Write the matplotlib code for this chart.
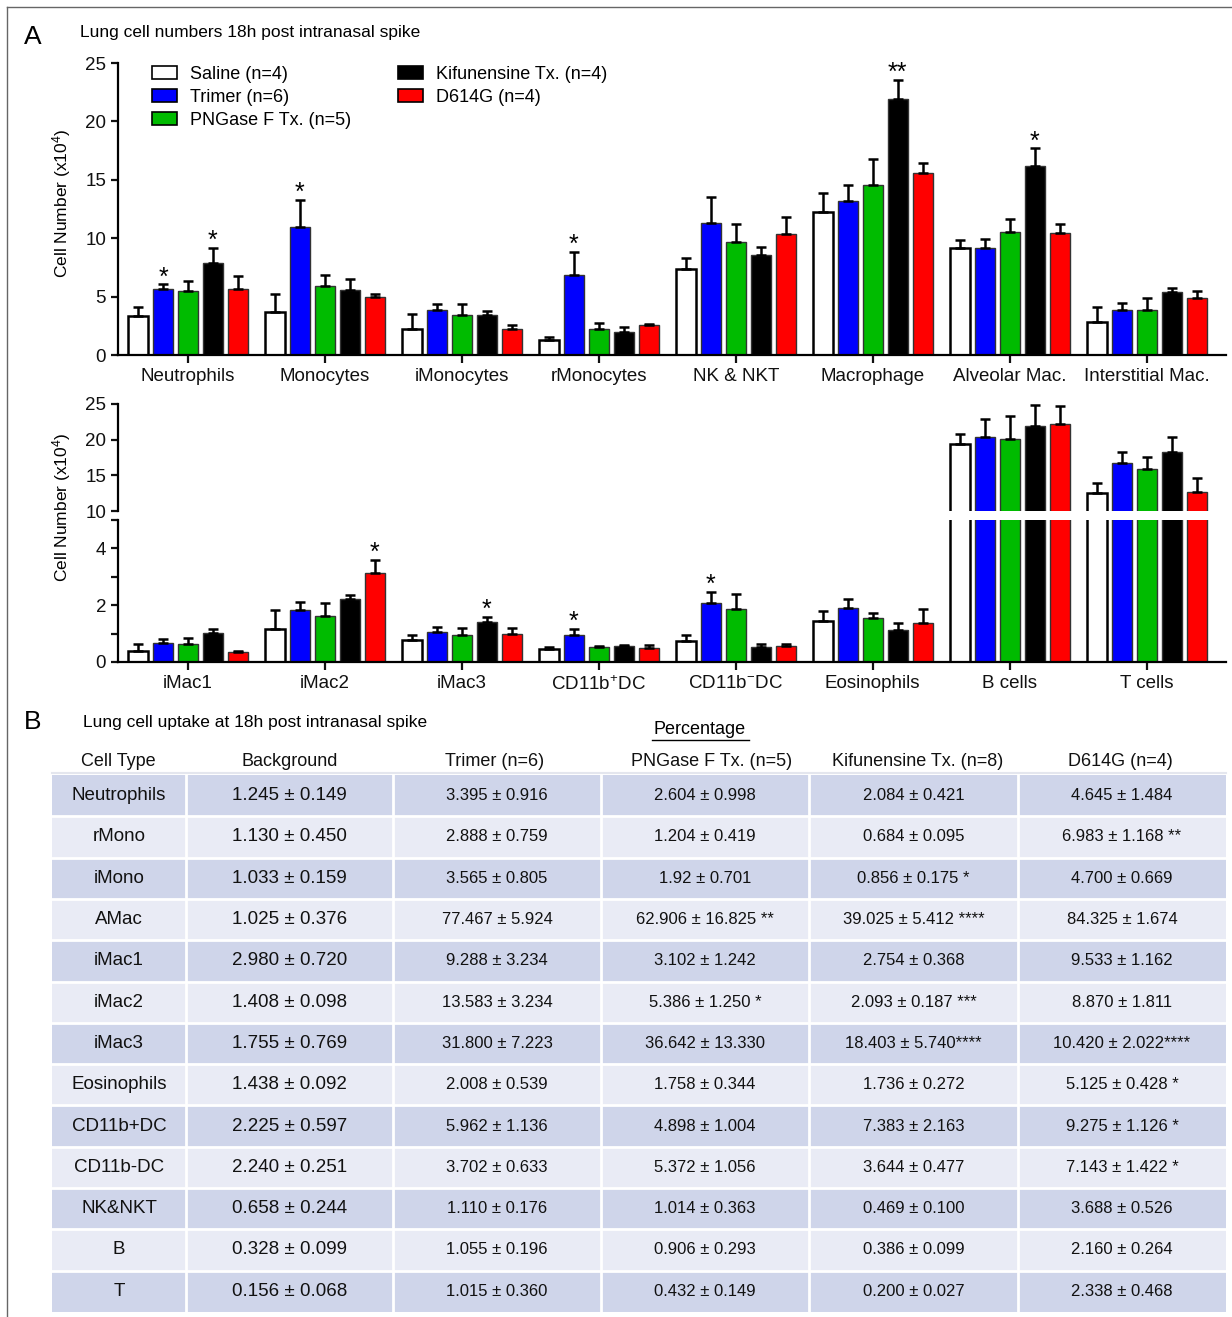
import matplotlib.pyplot as plt
import numpy as np
from matplotlib import font_manager
from matplotlib.patches import Patch, Rectangle

plt.rcParams['font.family'] = 'Liberation Sans'
plt.rcParams['mathtext.fontset'] = 'custom'
plt.rcParams['mathtext.rm'] = 'Liberation Sans'
plt.rcParams['mathtext.it'] = 'Liberation Sans:italic'

# ---- Data ----
groups = ["Saline (n=4)", "Trimer (n=6)", "PNGase F Tx. (n=5)",
          "Kifunensine Tx. (n=4)", "D614G (n=4)"]
colors = ["#ffffff", "#0000ff", "#00bb00", "#000000", "#ff0000"]

top_cells = ["Neutrophils", "Monocytes", "iMonocytes", "rMonocytes",
             "NK & NKT", "Macrophage", "Alveolar Mac.", "Interstitial Mac."]
top_means = [[3.33, 5.67, 5.44, 7.89, 5.67],
             [3.70, 10.94, 5.93, 5.58, 4.99],
             [2.22, 3.87, 3.45, 3.39, 2.22],
             [1.25, 6.84, 2.25, 1.94, 2.54],
             [7.33, 11.33, 9.67, 8.56, 10.36],
             [12.27, 13.21, 14.55, 21.92, 15.55],
             [9.19, 9.13, 10.56, 16.21, 10.47],
             [2.83, 3.85, 3.85, 5.42, 4.91]]
top_sem = [[0.77, 0.37, 0.91, 1.26, 1.13],
           [1.49, 2.36, 0.94, 0.89, 0.22],
           [1.31, 0.52, 0.94, 0.40, 0.32],
           [0.29, 2.02, 0.45, 0.48, 0.14],
           [0.95, 2.17, 1.57, 0.72, 1.43],
           [1.57, 1.32, 2.23, 1.60, 0.86],
           [0.66, 0.77, 1.06, 1.48, 0.72],
           [1.25, 0.60, 1.03, 0.32, 0.60]]
top_stars = [(0, 1, "*"), (0, 3, "*"), (1, 1, "*"), (3, 1, "*"), (5, 3, "**"), (6, 3, "*")]

bot_cells = ["iMac1", "iMac2", "iMac3", "CD11b$^{+}$DC", "CD11b$^{-}$DC",
             "Eosinophils", "B cells", "T cells"]
bot_means = [[0.40, 0.66, 0.65, 1.02, 0.34],
             [1.16, 1.84, 1.62, 2.22, 3.12],
             [0.78, 1.05, 0.95, 1.40, 1.00],
             [0.46, 0.95, 0.52, 0.55, 0.51],
             [0.75, 2.09, 1.87, 0.52, 0.56],
             [1.45, 1.89, 1.55, 1.14, 1.38],
             [19.44, 20.33, 20.14, 21.87, 22.15],
             [12.52, 16.73, 15.93, 18.32, 12.71]]
bot_sem = [[0.25, 0.16, 0.19, 0.14, 0.06],
           [0.68, 0.29, 0.47, 0.14, 0.46],
           [0.17, 0.17, 0.23, 0.18, 0.18],
           [0.08, 0.20, 0.06, 0.06, 0.08],
           [0.19, 0.38, 0.53, 0.12, 0.08],
           [0.36, 0.33, 0.18, 0.22, 0.47],
           [1.40, 2.52, 3.18, 2.99, 2.57],
           [1.41, 1.49, 1.69, 2.10, 1.87]]
bot_stars = [(1, 4, "*"), (2, 3, "*"), (3, 1, "*"), (4, 1, "*")]

# table (panel B)
tbl_header = ["Cell Type", "Background", "Trimer (n=6)", "PNGase F Tx. (n=5)",
              "Kifunensine Tx. (n=8)", "D614G (n=4)"]
tbl_cells = ["Neutrophils", "rMono", "iMono", "AMac", "iMac1", "iMac2", "iMac3",
             "Eosinophils", "CD11b+DC", "CD11b-DC", "NK&NKT", "B", "T"]
tbl_background = ["1.245 ± 0.149", "1.130 ± 0.450", "1.033 ± 0.159", "1.025 ± 0.376",
                  "2.980 ± 0.720", "1.408 ± 0.098", "1.755 ± 0.769", "1.438 ± 0.092",
                  "2.225 ± 0.597", "2.240 ± 0.251", "0.658 ± 0.244", "0.328 ± 0.099",
                  "0.156 ± 0.068"]
tbl_trimer = ["3.395 ± 0.916", "2.888 ± 0.759", "3.565 ± 0.805", "77.467 ± 5.924",
              "9.288 ± 3.234", "13.583 ± 3.234", "31.800 ± 7.223", "2.008 ± 0.539",
              "5.962 ± 1.136", "3.702 ± 0.633", "1.110 ± 0.176", "1.055 ± 0.196",
              "1.015 ± 0.360"]
tbl_pngase = ["2.604 ± 0.998", "1.204 ± 0.419", "1.92 ± 0.701", "62.906 ± 16.825 **",
              "3.102 ± 1.242", "5.386 ± 1.250 *", "36.642 ± 13.330", "1.758 ± 0.344",
              "4.898 ± 1.004", "5.372 ± 1.056", "1.014 ± 0.363", "0.906 ± 0.293",
              "0.432 ± 0.149"]
tbl_kifun = ["2.084 ± 0.421", "0.684 ± 0.095", "0.856 ± 0.175 *", "39.025 ± 5.412 ****",
             "2.754 ± 0.368", "2.093 ± 0.187 ***", "18.403 ± 5.740****", "1.736 ± 0.272",
             "7.383 ± 2.163", "3.644 ± 0.477", "0.469 ± 0.100", "0.386 ± 0.099",
             "0.200 ± 0.027"]
tbl_d614g = ["4.645 ± 1.484", "6.983 ± 1.168 **", "4.700 ± 0.669", "84.325 ± 1.674",
             "9.533 ± 1.162", "8.870 ± 1.811", "10.420 ± 2.022****", "5.125 ± 0.428 *",
             "9.275 ± 1.126 *", "7.143 ± 1.422 *", "3.688 ± 0.526", "2.160 ± 0.264",
             "2.338 ± 0.468"]

# ---- Layout helpers (pixel -> figure fraction) ----
W, H = 1232, 1317
fig = plt.figure(figsize=(W / 100, H / 100), dpi=100)


def fx(px):
    return px / W


def fy(py):
    return 1 - py / H


def box(x0, x1, y_top, y_bot):
    return [fx(x0), fy(y_bot), fx(x1) - fx(x0), fy(y_top) - fy(y_bot)]


step, width = 0.1825, 0.146
xlim = (-0.511, 7.58)
spine_w = 1.6


def style_axes(ax, bottom=True):
    for s in ["top", "right"]:
        ax.spines[s].set_visible(False)
    ax.spines["left"].set_linewidth(spine_w)
    ax.spines["bottom"].set_linewidth(spine_w)
    ax.spines["bottom"].set_visible(bottom)
    ax.tick_params(direction="out", length=5, width=spine_w, labelsize=13.5, colors="#111")
    ax.set_xlim(*xlim)


def draw_bars(ax, means, sems):
    means = np.array(means)
    sems = np.array(sems)
    x = np.arange(len(means))
    for j in range(5):
        pos = x + (j - 2) * step
        edge = "black" if j == 0 else "#333333"
        lw = 1.8 if j == 0 else 1.0
        ax.bar(pos, means[:, j], width, color=colors[j], edgecolor=edge,
               linewidth=lw, zorder=2)
        ax.errorbar(pos, means[:, j], yerr=[np.zeros(len(x)), sems[:, j]], fmt="none",
                    ecolor="black", elinewidth=1.8, capsize=3.8, capthick=1.8, zorder=3)


def draw_stars(ax, means, sems, stars):
    for i, j, s in stars:
        ax.annotate(s, (i + (j - 2) * step, means[i][j] + sems[i][j]),
                    xytext=(0, 0), textcoords="offset points", ha="center",
                    va="baseline", fontsize=18, annotation_clip=False)


# ---- Panel A, top chart ----
ax1 = fig.add_axes(box(118, 1226, 63, 355))
style_axes(ax1)
draw_bars(ax1, top_means, top_sem)
draw_stars(ax1, top_means, top_sem, top_stars)
ax1.set_ylim(0, 25)
ax1.set_yticks([0, 5, 10, 15, 20, 25])
ax1.set_xticks(np.arange(len(top_cells)))
ax1.set_xticklabels(top_cells, fontsize=13.5)
ax1.tick_params(axis="x", length=6)

handles = [Patch(facecolor=c, edgecolor="black", linewidth=1.2, label=g)
           for c, g in zip(colors, groups)]
ax1.legend(handles=handles, ncol=2, loc="upper left", bbox_to_anchor=(fx(152), fy(66)),
           bbox_transform=fig.transFigure, frameon=False, fontsize=13,
           handlelength=1.4, handleheight=0.72, handletextpad=0.7,
           labelspacing=0.33, columnspacing=2.6, borderpad=0, borderaxespad=0)

# ---- Panel A, bottom chart (broken axis) ----
ax_hi = fig.add_axes(box(118, 1226, 404, 511))
ax_lo = fig.add_axes(box(118, 1226, 520, 662))
style_axes(ax_hi, bottom=False)
style_axes(ax_lo)
for a in (ax_hi, ax_lo):
    draw_bars(a, bot_means, bot_sem)
ax_hi.set_ylim(10, 25)
ax_hi.set_yticks([10, 15, 20, 25])
ax_hi.set_xticks([])
ax_lo.set_ylim(0, 5)
ax_lo.set_yticks([0, 1, 2, 3, 4, 5])
ax_lo.set_yticklabels(["0", "", "2", "", "4", ""])
ax_lo.set_xticks(np.arange(len(bot_cells)))
ax_lo.set_xticklabels(bot_cells, fontsize=13.5)
ax_lo.tick_params(axis="x", length=6)
draw_stars(ax_lo, bot_means, bot_sem, bot_stars)

# ---- Page overlay: labels, border, table ----
page = fig.add_axes([0, 0, 1, 1], zorder=-1)
page.set_xlim(0, W)
page.set_ylim(H, 0)
page.axis("off")

page.plot([7, 7], [7, H], color="#666666", lw=1)
page.plot([7, W], [7, 7], color="#666666", lw=1)

page.text(24, 37, "A", fontsize=19, va="center", ha="left")
page.text(80, 32, "Lung cell numbers 18h post intranasal spike", fontsize=12.5, va="center")
page.text(62, 203, "Cell Number (x10$^{4}$)", fontsize=12.5, rotation=90, ha="center", va="center")
page.text(62, 507, "Cell Number (x10$^{4}$)", fontsize=12.5, rotation=90, ha="center", va="center")

page.text(24, 722, "B", fontsize=19, va="center", ha="left")
page.text(83, 722, "Lung cell uptake at 18h post intranasal spike", fontsize=12.5, va="center")
page.text(700, 729, "Percentage", fontsize=13, ha="center", va="center")
page.plot([652, 749], [740, 740], color="black", lw=1)

names = {f.name for f in font_manager.fontManager.ttflist}
narrow = "Liberation Sans Narrow" if "Liberation Sans Narrow" in names else "Liberation Sans"
narrow_size = 13 if narrow == "Liberation Sans Narrow" else 12

col_edges = [52, 186, 393, 601, 809, 1018, 1226]
header_x = [118, 290, 495, 712, 918, 1120]
row_top, row_h = 775, 41.3
columns = [tbl_cells, tbl_background, tbl_trimer, tbl_pngase, tbl_kifun, tbl_d614g]

for k, h in enumerate(tbl_header):
    page.text(header_x[k], 761, h, fontsize=13, ha="center", va="center", color="#111")
page.plot([52, 1226], [773, 773], color="#e4e6ee", lw=1.5)

for i in range(len(tbl_cells)):
    y0 = row_top + i * row_h
    shade = "#cfd5ea" if i % 2 == 0 else "#e9ebf5"
    page.add_patch(Rectangle((col_edges[0], y0), col_edges[-1] - col_edges[0], row_h,
                             facecolor=shade, edgecolor="none"))
    yc = y0 + row_h / 2
    for k, col in enumerate(columns):
        xc = (col_edges[k] + col_edges[k + 1]) / 2
        if k < 2:
            page.text(xc, yc, col[i], fontsize=13.5, ha="center", va="center", color="#111")
        else:
            page.text(xc, yc, col[i], fontsize=narrow_size, family=narrow,
                      ha="center", va="center", color="#111")

for i in range(1, len(tbl_cells)):
    y = row_top + i * row_h
    page.plot([col_edges[0], col_edges[-1]], [y, y], color="white", lw=2)
for xe in col_edges[1:-1]:
    page.plot([xe, xe], [row_top, row_top + len(tbl_cells) * row_h], color="white", lw=2)

fig.savefig("out.png", dpi=100)
